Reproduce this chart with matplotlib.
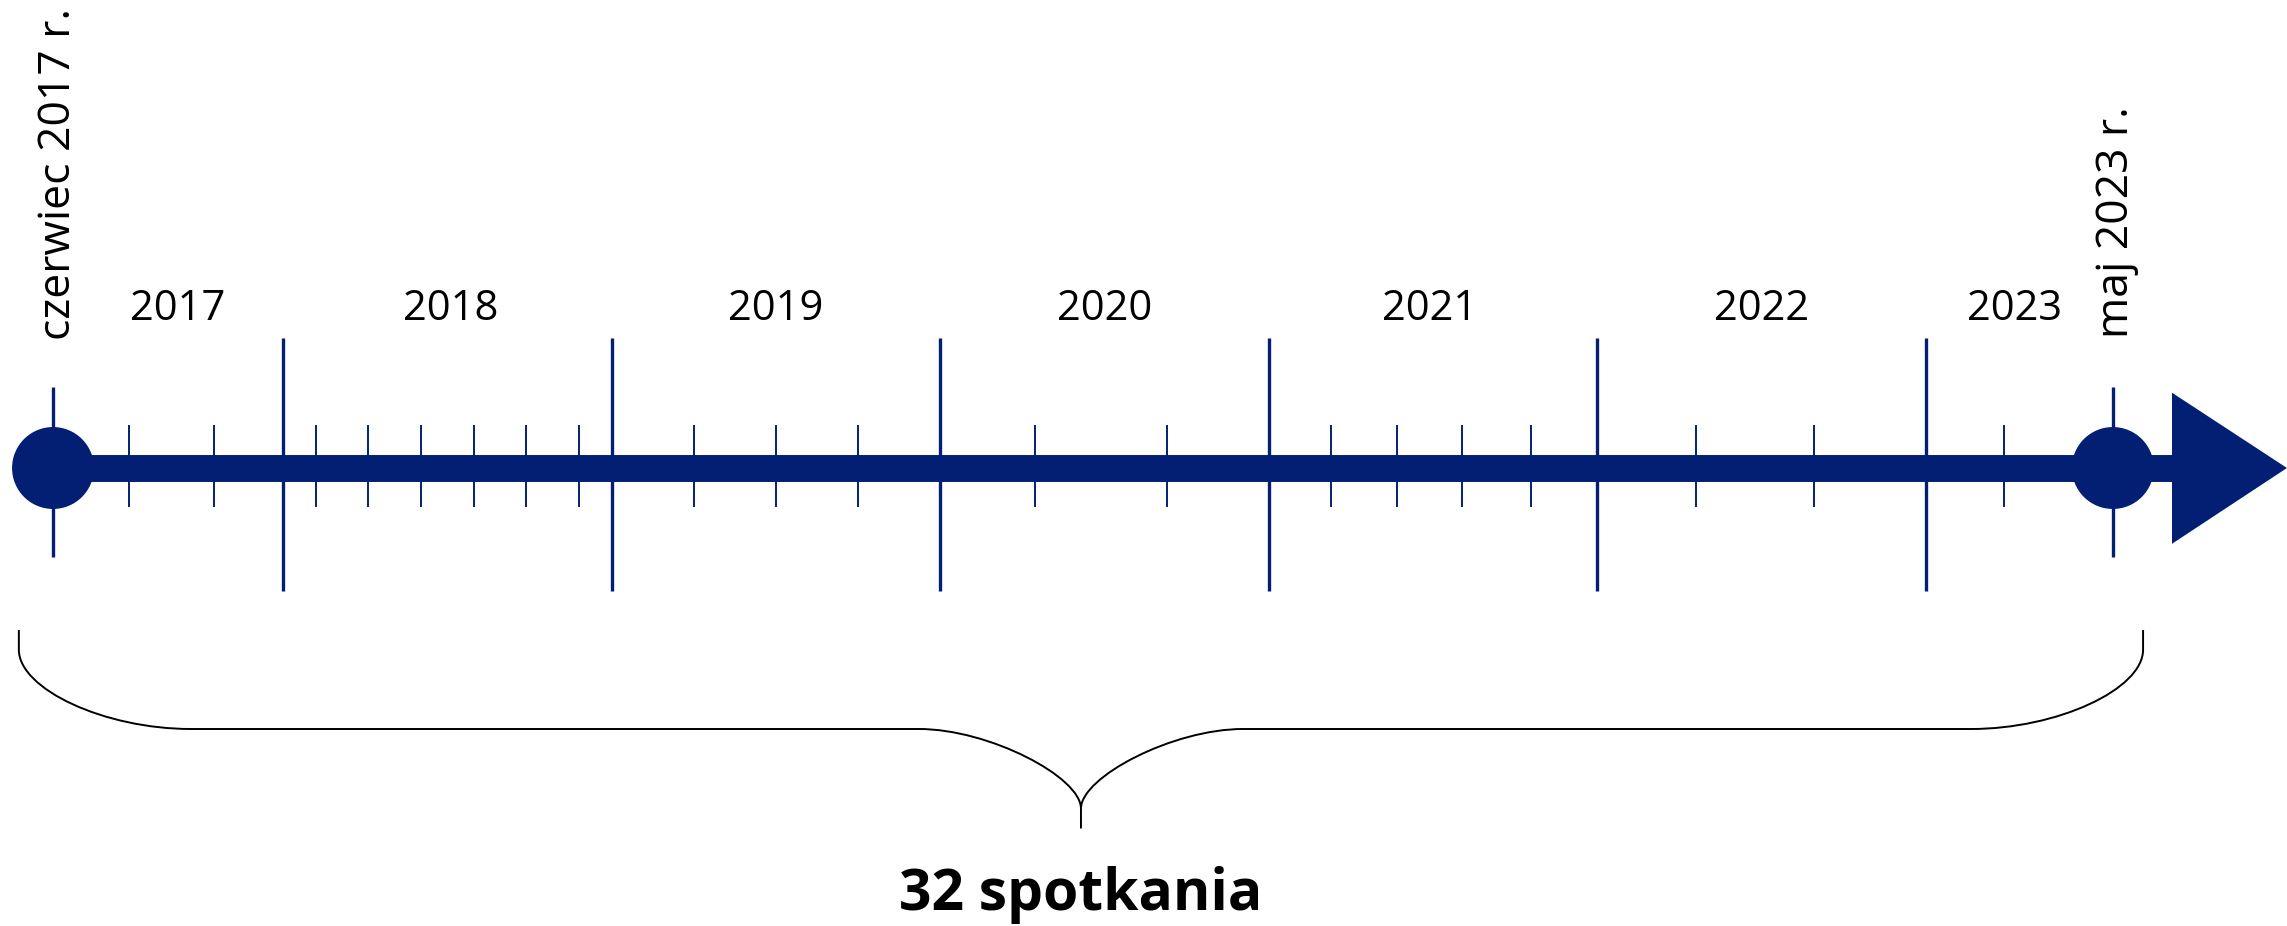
import matplotlib
matplotlib.use("Agg")
import matplotlib.pyplot as plt
from matplotlib.path import Path
from matplotlib.patches import PathPatch, Polygon

# ---------------- data ----------------
start_date = 2017.30          # czerwiec 2017
end_date = 2023.57            # maj 2023
year_dividers = [2018, 2019, 2020, 2021, 2022, 2023]
year_labels = ["2017", "2018", "2019", "2020", "2021", "2022", "2023"]
year_label_x = [2017.68, 2018.51, 2019.50, 2020.50, 2021.49, 2022.50, 2023.27]
meetings = [2017.53, 2017.79,
            2018.10, 2018.26, 2018.42, 2018.58, 2018.74, 2018.90,
            2019.25, 2019.50, 2019.75,
            2020.29, 2020.69,
            2021.19, 2021.39, 2021.59, 2021.80,
            2022.30, 2022.66,
            2023.24]
start_label = "czerwiec 2017 r."
end_label = "maj 2023 r."
summary_label = "32 spotkania"

# ---------------- style ----------------
NAVY = "#021F74"
FONT = "Open Sans"

fig = plt.figure(figsize=(22.87, 9.26), dpi=100)
ax = fig.add_axes([0, 0, 1, 1])
ax.axis("off")
ax.set_xlim(2017.1386, 2024.1001)
ax.set_ylim(926, 0)

y0 = 468
arrow_base = 2023.75
arrow_tip = 2024.10

# small meeting ticks
ax.vlines(meetings, 425, 507, color=NAVY, lw=1.4, zorder=2)
# year dividers
ax.vlines(year_dividers, 338, 591, color=NAVY, lw=2.4, zorder=2)
# start / end ticks
ax.vlines([start_date, end_date], 387, 557, color=NAVY, lw=2.4, zorder=2)
# main bar
ax.plot([start_date, arrow_base], [y0, y0], color=NAVY, lw=19.4,
        solid_capstyle="butt", zorder=3)
# arrow head
ax.add_patch(Polygon([(arrow_base, 392.7), (arrow_tip, y0), (arrow_base, 543.8)],
                     closed=True, facecolor=NAVY, edgecolor="none", zorder=3))
# start / end circles
ax.scatter([start_date, end_date], [y0, y0], s=3481, color=NAVY,
           edgecolors="none", zorder=4)

# year labels
for lab, x in zip(year_labels, year_label_x):
    ax.text(x, 320, lab, ha="center", va="baseline", fontsize=30,
            family=FONT, color="black")

# rotated date labels
ax.annotate(start_label, xy=(start_date, 340), xytext=(17, 0),
            textcoords="offset pixels", rotation=90, rotation_mode="anchor",
            ha="left", va="baseline", fontsize=32, family=FONT, color="black")
ax.annotate(end_label, xy=(end_date, 338), xytext=(15, 0),
            textcoords="offset pixels", rotation=90, rotation_mode="anchor",
            ha="left", va="baseline", fontsize=32, family=FONT, color="black")

# brace
x0, x1 = 2017.196, 2023.662
xm = (x0 + x1) / 2
rx_end = 0.5236
rx_mid = 0.493
y_top, y_sh, y_h, y_tip, y_stem = 630, 649.7, 729, 808.6, 828.5
ke, km_x, km_y = 0.5, 0.43, 0.4
verts = [
    (x0, y_top), (x0, y_sh),
    (x0, y_sh + ke * (y_h - y_sh)), (x0 + rx_end * (1 - ke), y_h), (x0 + rx_end, y_h),
    (xm - rx_mid, y_h),
    (xm - rx_mid + km_x * rx_mid, y_h), (xm, y_tip - km_y * (y_tip - y_h)), (xm, y_tip),
    (xm, y_stem),
    (xm, y_tip),
    (xm, y_tip - km_y * (y_tip - y_h)), (xm + rx_mid - km_x * rx_mid, y_h), (xm + rx_mid, y_h),
    (x1 - rx_end, y_h),
    (x1 - rx_end * (1 - ke), y_h), (x1, y_sh + ke * (y_h - y_sh)), (x1, y_sh),
    (x1, y_top),
]
codes = [Path.MOVETO, Path.LINETO,
         Path.CURVE4, Path.CURVE4, Path.CURVE4,
         Path.LINETO,
         Path.CURVE4, Path.CURVE4, Path.CURVE4,
         Path.LINETO,
         Path.MOVETO,
         Path.CURVE4, Path.CURVE4, Path.CURVE4,
         Path.LINETO,
         Path.CURVE4, Path.CURVE4, Path.CURVE4,
         Path.LINETO]
ax.add_patch(PathPatch(Path(verts, codes), facecolor="none", edgecolor="black",
                       lw=1.4, zorder=2))

ax.text(xm, 910, summary_label, ha="center", va="baseline", fontsize=41,
        fontweight="bold", family=FONT, color="black")

fig.savefig("out.png", dpi=100)
